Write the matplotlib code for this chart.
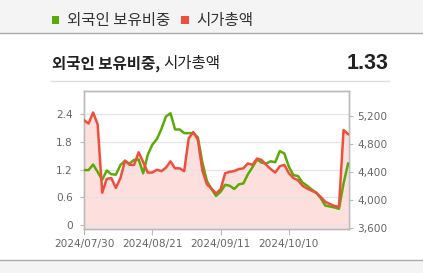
import matplotlib
matplotlib.use("Agg")
import matplotlib.pyplot as plt
from matplotlib.patches import Rectangle
from matplotlib.lines import Line2D
import numpy as np

# ---------------- data ----------------
tick_labels = ["2024/07/30", "2024/08/21", "2024/09/11", "2024/10/10"]
tick_index = [0, 15, 30, 45]          # trading-day index of each labelled date

foreign_ratio = [1.19, 1.19, 1.31, 1.15, 0.98, 1.18, 1.10, 1.09, 1.30, 1.39,
                 1.33, 1.41, 1.42, 1.12, 1.52, 1.74, 1.86, 2.08, 2.35, 2.42,
                 2.07, 2.07, 1.99, 1.99, 1.99, 1.90, 1.35, 0.95, 0.78, 0.63,
                 0.72, 0.87, 0.85, 0.78, 0.88, 0.90, 1.10, 1.25, 1.42, 1.35,
                 1.33, 1.38, 1.36, 1.60, 1.55, 1.26, 1.08, 1.06, 0.92, 0.85,
                 0.77, 0.70, 0.58, 0.42, 0.40, 0.38, 0.35, 0.90, 1.33]

market_cap = [5140, 5092, 5250, 5080, 4100, 4300, 4310, 4170, 4310, 4560,
              4500, 4500, 4680, 4540, 4390, 4390, 4430, 4410, 4460, 4550,
              4450, 4450, 4410, 4880, 4970, 4860, 4420, 4220, 4160, 4090,
              4150, 4380, 4400, 4410, 4440, 4450, 4520, 4500, 4590, 4570,
              4500, 4440, 4390, 4480, 4500, 4380, 4310, 4280, 4200, 4160,
              4130, 4100, 4040, 3970, 3940, 3910, 3900, 5000, 4940]

left_ticks = [0, 0.6, 1.2, 1.8, 2.4]
right_ticks = [3600, 4000, 4400, 4800, 5200]

series_names = ["외국인 보유비중", "시가총액"]
latest_value = "1.33"

# ---------------- style ----------------
GREEN = "#5aaa08"
RED = "#f04e3c"
FILL = "#fde0de"
TICK_C = "#666666"
W, H = 423, 273

plt.rcParams['font.family'] = ['Noto Sans CJK KR', 'DejaVu Sans']

fig = plt.figure(figsize=(W / 100, H / 100), dpi=100)
fig.patch.set_facecolor("white")

def fx(px):
    return px / W

def fy(py):
    return 1 - py / H

# header band
fig.add_artist(Rectangle((0, fy(33.3)), 1, 33.3 / H, transform=fig.transFigure,
                         facecolor="#f4f4f4", edgecolor="none", zorder=0))
fig.add_artist(Line2D([0, 1], [fy(33.3)] * 2, transform=fig.transFigure,
                      color="#aaaaaa", lw=1.0))
# footer band
fig.add_artist(Rectangle((0, 0), 1, fy(260), transform=fig.transFigure,
                         facecolor="#f4f4f4", edgecolor="none", zorder=0))
fig.add_artist(Line2D([0, 1], [fy(260)] * 2, transform=fig.transFigure,
                      color="#aaaaaa", lw=1.0))
# title underline
fig.add_artist(Line2D([fx(51), fx(389)], [fy(80.7)] * 2, transform=fig.transFigure,
                      color="#dddddd", lw=1.0))

# legend
fig.add_artist(Rectangle((fx(51.7), fy(23.8)), 7.6 / W, 7.6 / H, transform=fig.transFigure,
                         facecolor=GREEN, edgecolor="none"))
fig.text(fx(66.5), fy(20), series_names[0], fontsize=11.2, color="#333333",
         ha="left", va="center")
fig.add_artist(Rectangle((fx(181.3), fy(23.8)), 7.6 / W, 7.6 / H, transform=fig.transFigure,
                         facecolor=RED, edgecolor="none"))
fig.text(fx(196), fy(20), series_names[1], fontsize=11.2, color="#333333",
         ha="left", va="center")

# title
t1 = fig.text(fx(51.5), fy(63.5), series_names[0] + ",", fontsize=11.2, fontweight="bold",
              color="#222222", ha="left", va="center")
fig.text(fx(388.5), fy(63.5), latest_value, fontsize=15.5, fontweight="bold",
         family="Liberation Sans", color="#222222", ha="right", va="center")

# ---------------- axes ----------------
pos = [fx(84), fy(229), (349 - 84) / W, (229 - 91) / H]
ax2 = fig.add_axes(pos)                 # right axis: fill + ticks (bottom layer)
ax = ax2.twinx()                        # left axis: green line + grid
ax.set_position(pos)
ax3 = ax2.twinx()                       # red line on top
ax3.set_position(pos)

x = np.arange(len(market_cap))
ax2.fill_between(x, market_cap, 3000, color=FILL, lw=0, zorder=1)
ax.plot(x, foreign_ratio, color=GREEN, lw=1.8, solid_joinstyle="round", zorder=3)
ax3.plot(x, market_cap, color=RED, lw=1.8, solid_joinstyle="round", zorder=3)

r_lim = (3581, 5558)
l_lim = (-0.087, 2.903)
for a in (ax2, ax3):
    a.set_ylim(*r_lim)
ax.set_ylim(*l_lim)
for a in (ax, ax2, ax3):
    a.set_xlim(0, 58.2)

ax2.yaxis.tick_right()
ax.yaxis.tick_left()
ax.set_yticks(left_ticks)
ax.set_yticklabels([f"{v:.1f}" if v else "0" for v in left_ticks])
ax2.set_yticks(right_ticks)
ax2.set_yticklabels([f"{v:,}" for v in right_ticks])
ax3.set_yticks([])
ax3.set_xticks([])

ax.set_zorder(ax2.get_zorder() + 1)
ax.patch.set_visible(False)
ax3.set_zorder(ax.get_zorder() + 1)
ax3.patch.set_visible(False)
ax3.axis("off")

ax2.set_xticks(tick_index)
ax2.set_xticklabels(tick_labels)
ax.set_xticks(tick_index)
ax.tick_params(axis="x", labelbottom=False, length=0)

ax.grid(True, color="#e4e4e4", lw=0.9)
ax2.grid(False)

for a in (ax, ax2):
    for s in a.spines.values():
        s.set_color("#bbbbbb")
        s.set_linewidth(1.0)

ax.tick_params(axis="y", colors="#bbbbbb", labelcolor=TICK_C, length=3, width=0.8,
               pad=5, labelsize=7.6, labelfontfamily="DejaVu Sans")
ax2.tick_params(axis="y", colors="#bbbbbb", labelcolor=TICK_C, length=3, width=0.8,
                pad=3, labelsize=7.6, labelfontfamily="DejaVu Sans")
ax2.tick_params(axis="x", colors="#bbbbbb", labelcolor=TICK_C, length=4, width=0.8,
                pad=3, labelsize=7.6, labelfontfamily="DejaVu Sans")

# second (normal weight) part of the title, placed right after the bold part
fig.canvas.draw()
bb = t1.get_window_extent()
fig.text(bb.x1 / W + fx(4), fy(63.5), series_names[1], fontsize=11.2,
         color="#222222", ha="left", va="center")

fig.savefig("out.png", dpi=100, facecolor="white")
